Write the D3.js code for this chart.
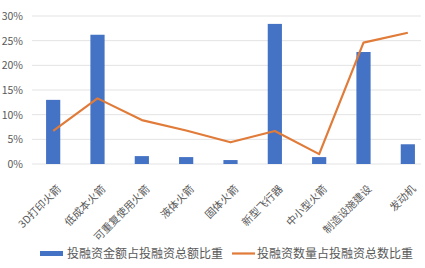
<!DOCTYPE html>
<html>
<head>
<meta charset="utf-8">
<script src="https://cdn.jsdelivr.net/npm/d3@7"></script>
<style>
  body { margin: 0; background: #fff; }
  text { font-family: "Noto Sans CJK SC", "Noto Sans", sans-serif; }
</style>
</head>
<body>
<svg id="chart" width="425" height="268"></svg>
<script>
const categories = ["3D打印火箭", "低成本火箭", "可重复使用火箭", "液体火箭", "固体火箭", "新型飞行器", "中小型火箭", "制造设施建设", "发动机"];
const amountShare = [13.0, 26.2, 1.6, 1.4, 0.8, 28.4, 1.4, 22.7, 4.0];
const countShare = [6.7, 13.3, 8.9, 6.8, 4.4, 6.7, 2.0, 24.6, 26.6];
const yTicks = [0, 5, 10, 15, 20, 25, 30];
const seriesNames = ["投融资金额占投融资总额比重", "投融资数量占投融资总数比重"];

const chart = d3.select("#chart");

const xScale = d3.scaleBand().domain(categories).range([31, 430]).paddingInner(0.68).paddingOuter(0.34);
const xPoint = (d) => xScale(d) + xScale.bandwidth() / 2;
const yScale = d3.scaleLinear().domain([0, 30]).range([164, 16]);

// gridlines
chart
  .append("g")
  .selectAll("line")
  .data(yTicks)
  .enter()
  .append("line")
  .attr("x1", 32)
  .attr("x2", 421)
  .attr("y1", (d) => yScale(d))
  .attr("y2", (d) => yScale(d))
  .attr("stroke", "#e3e3e3")
  .attr("stroke-width", 1);

const yAxis = d3.axisLeft(yScale).tickValues(yTicks).tickSize(0).tickFormat((d) => d + "%");
const yG = chart.append("g").attr("transform", "translate(23, 0)").call(yAxis);
yG.select(".domain").remove();
yG.selectAll("text").attr("fill", "#595959").style("font-size", "10.5px").attr("x", 0);

chart
  .selectAll("rect.bar")
  .data(amountShare)
  .enter()
  .append("rect")
  .attr("class", "bar")
  .attr("x", (d, i) => xScale(categories[i]))
  .attr("y", (d) => yScale(d))
  .attr("width", xScale.bandwidth())
  .attr("height", (d) => yScale(0) - yScale(d))
  .attr("fill", "#4472c4");

const line = d3
  .line()
  .x((d, i) => xPoint(categories[i]))
  .y((d) => yScale(d));

chart
  .append("path")
  .datum(countShare)
  .attr("d", line)
  .attr("fill", "none")
  .attr("stroke", "#e07b39")
  .attr("stroke-width", 2.2)
  .attr("stroke-linejoin", "round");

// x labels, rotated
chart
  .append("g")
  .selectAll("text")
  .data(categories)
  .enter()
  .append("text")
  .attr("transform", (d) => `translate(${xPoint(d) + 6}, 187) rotate(-45)`)
  .attr("text-anchor", "end")
  .attr("dy", "0.35em")
  .attr("fill", "#595959")
  .style("font-size", "10.5px")
  .text((d) => d);

// legend
const legend = chart.append("g");
legend.append("rect").attr("x", 40).attr("y", 251).attr("width", 23).attr("height", 5).attr("fill", "#4472c4");
legend
  .append("text")
  .attr("x", 67)
  .attr("y", 254)
  .attr("dy", "0.35em")
  .attr("fill", "#595959")
  .style("font-size", "12px")
  .text(seriesNames[0]);
legend
  .append("line")
  .attr("x1", 232)
  .attr("x2", 255)
  .attr("y1", 253.5)
  .attr("y2", 253.5)
  .attr("stroke", "#e07b39")
  .attr("stroke-width", 2.2);
legend
  .append("text")
  .attr("x", 257)
  .attr("y", 254)
  .attr("dy", "0.35em")
  .attr("fill", "#595959")
  .style("font-size", "12px")
  .text(seriesNames[1]);
</script>
</body>
</html>
